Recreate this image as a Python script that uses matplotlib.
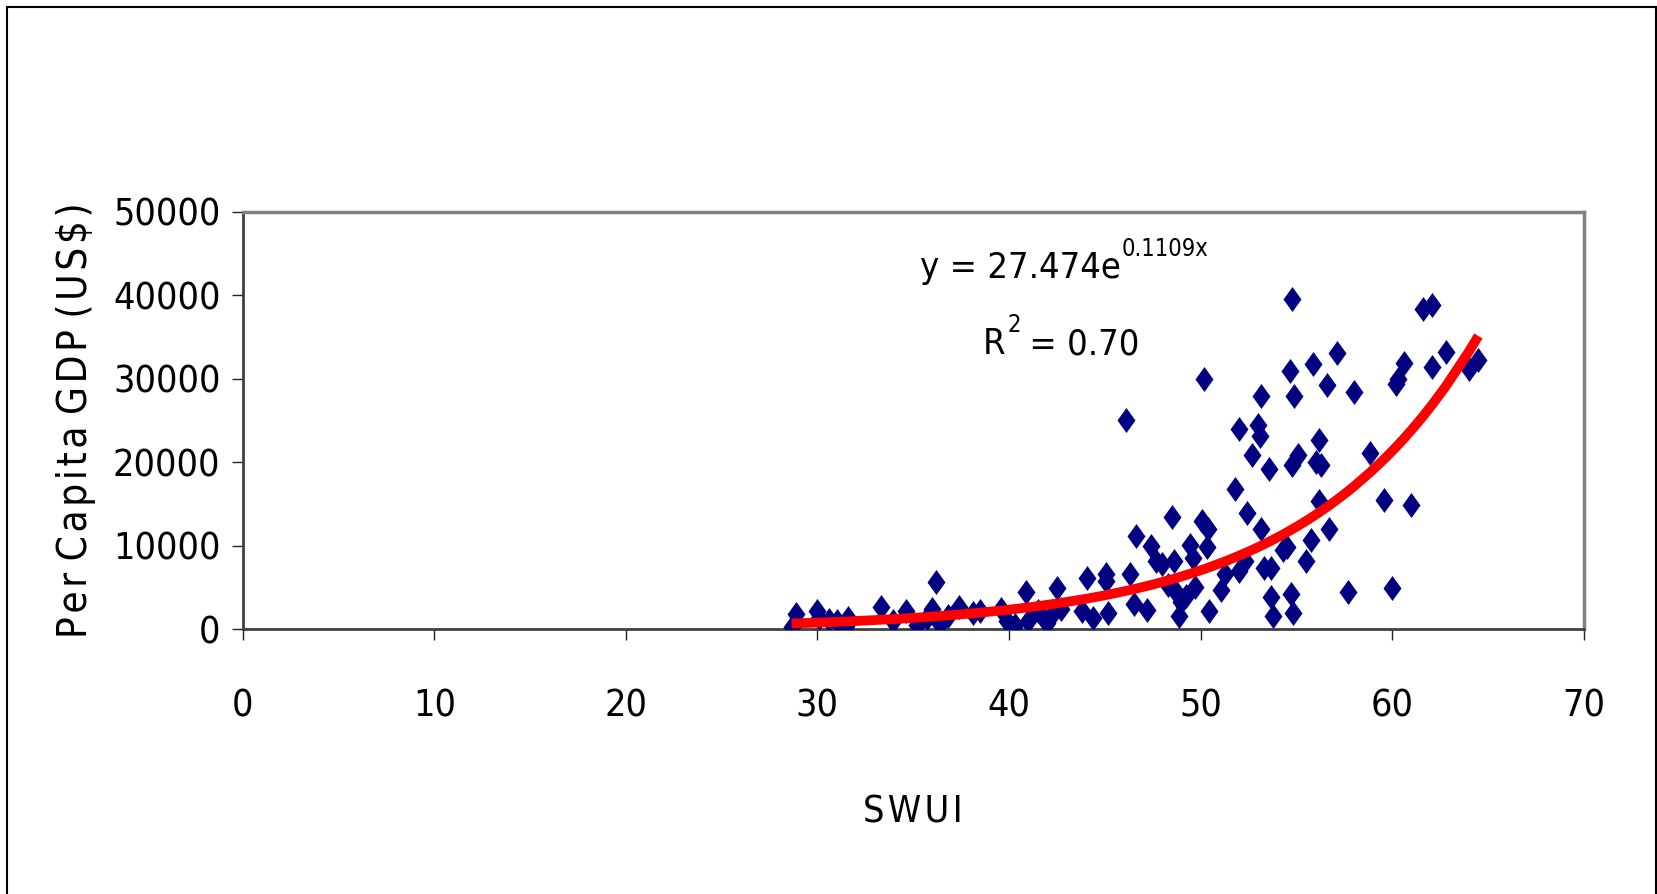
import numpy as np
import matplotlib.pyplot as plt
from matplotlib.path import Path
from matplotlib.patches import Rectangle

plt.rcParams['font.family'] = ['DejaVu Sans']
plt.rcParams['font.stretch'] = 'condensed'

# SWUI score per country
swui = [28.65, 28.9, 30.0, 30.1, 30.6, 31.0, 31.6, 31.5, 33.3, 33.95,
        34.6, 35.2, 35.7, 36.0, 36.2, 36.4, 36.8, 37.4, 38.1, 38.5,
        39.6, 39.9, 40.3, 40.9, 41.0, 41.5, 42.0, 42.2, 42.5, 42.7,
        44.05, 43.8, 44.4, 45.05, 45.05, 45.15, 46.1, 46.3, 46.5, 46.65,
        47.2, 47.4, 47.7, 48.0, 48.5, 48.3, 48.6, 48.7, 48.85, 49.0,
        49.25, 49.45, 49.6, 49.7, 50.2, 50.1, 50.4, 50.35, 50.45, 51.05,
        51.3, 51.8, 52.0, 52.0, 52.3, 52.4, 52.7, 53.0, 53.1, 53.16,
        53.16, 53.3, 53.55, 53.7, 53.7, 53.8, 54.3, 54.5, 54.65, 54.75,
        54.75, 54.7, 54.8, 54.9, 55.1, 55.5, 55.75, 55.85, 56.0, 56.2,
        56.2, 56.3, 56.6, 56.7, 57.1, 57.7, 58.0, 58.85, 59.6, 60.0,
        60.2, 60.3, 60.6, 61.0, 61.6, 62.1, 62.1, 62.8, 64.0, 64.5]

# per capita GDP (US$)
gdp = [250, 1800, 2100, 1300, 1100, 900, 1300, 400, 2650, 900,
       2100, 500, 1300, 2400, 5600, 600, 1500, 2650, 1900, 2100,
       2400, 900, 500, 4400, 900, 2100, 750, 1500, 4900, 2400,
       6100, 2100, 1300, 6600, 5700, 1900, 25000, 6600, 3000, 11200,
       2300, 10000, 8200, 7800, 13400, 5300, 8200, 4400, 1500, 3200,
       4000, 10100, 8500, 5000, 30000, 13000, 12000, 9800, 2100, 4700,
       6600, 16800, 24000, 6900, 8200, 13900, 20800, 24400, 23100, 27900,
       12000, 7300, 19200, 3800, 7300, 1600, 9500, 9800, 30900, 39500,
       19600, 4200, 1900, 27900, 20800, 8200, 10700, 31800, 20000, 22700,
       15300, 19600, 29200, 12000, 33100, 4400, 28400, 21100, 15500, 4900,
       29300, 30000, 31900, 14800, 38300, 38800, 31400, 33200, 31100, 32200]

fit_a = 27.474
fit_b = 0.1109
r2 = 0.70

W, H = 1657, 894
fig = plt.figure(figsize=(W / 100, H / 100), dpi=100)
ax = fig.add_axes([242.7 / W, 1 - 629 / H, (1583.7 - 242.7) / W, (629 - 211.7) / H])

diamond = Path([(0, 1), (0.72, 0), (0, -1), (-0.72, 0), (0, 1)],
               [Path.MOVETO, Path.LINETO, Path.LINETO, Path.LINETO, Path.CLOSEPOLY])
ax.scatter(swui, gdp, marker=diamond, s=18 ** 2, color='#000080', linewidths=0, zorder=3)

xs = np.sort(np.array(swui))
ax.plot(xs, fit_a * np.exp(fit_b * xs), color='#ff0000', lw=7, zorder=4,
        solid_capstyle='butt')

ax.set_xlim(0, 70)
ax.set_ylim(0, 50000)
ax.set_xticks(range(0, 71, 10))
ax.set_yticks(range(0, 50001, 10000))
ax.tick_params(direction='out', length=8, width=1, color='#222222',
               labelsize=27, pad=8)
ax.tick_params(axis='x', pad=35)

for side in ['left', 'bottom']:
    ax.spines[side].set_color('#404040')
    ax.spines[side].set_linewidth(2)
for side in ['top', 'right']:
    ax.spines[side].set_color('#808080')
    ax.spines[side].set_linewidth(2.5)

ax.set_xlabel('S\u200aW\u200aU\u200aI', fontsize=27, labelpad=50)
ax.set_ylabel('P\u200ae\u200ar C\u200aa\u200ap\u200ai\u200at\u200aa G\u200aD\u200aP (\u200aU\u200aS\u200a$\u200a)',
              fontsize=29, labelpad=12)

# trendline equation
t1 = ax.text(35.33, 43300, 'y = 27.474e', fontsize=26, va='center', ha='left')
t2 = ax.text(38.64, 34100, 'R', fontsize=26, va='center', ha='left')
fig.canvas.draw()
r = fig.canvas.get_renderer()
b1 = t1.get_window_extent(r)
b2 = t2.get_window_extent(r)
fig.text(b1.x1 / W + 0.001, (b1.y1 + 2) / H, '%.4fx' % fit_b, fontsize=17,
         va='center', ha='left')
fig.text(b2.x1 / W + 0.001, (b2.y1 + 2) / H, '2', fontsize=17, va='center', ha='left')
fig.text(b2.x1 / W + 0.008, (b2.y0 + b2.y1) / 2 / H, ' = %.2f' % r2, fontsize=26,
         va='center', ha='left')

fig.patches.append(Rectangle((7 / W, -0.05), (1655.5 - 7) / W, 1.05 - 7 / H,
                             transform=fig.transFigure, fill=False,
                             edgecolor='black', lw=1.5))

fig.savefig('out.png', dpi=100)
